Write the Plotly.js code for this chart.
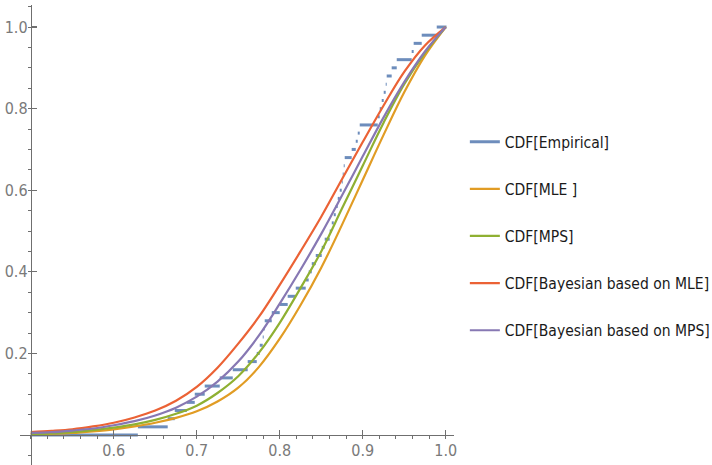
<!DOCTYPE html>
<html>
<head>
<meta charset="utf-8">
<script src="https://cdn.plot.ly/plotly-3.0.1.min.js"></script>
<style>
html,body{margin:0;padding:0;background:#fff;}
#chart{width:712px;height:465px;}
#chart svg text{font-stretch:condensed !important;}
</style>
</head>
<body>
<div id="chart"></div>
<script>
// ---- Data ----
// Empirical sample (sorted), n = 50
const sample = [
  0.629, 0.665, 0.6735, 0.688, 0.6976, 0.7096, 0.7277, 0.7434, 0.7614, 0.7723,
  0.7759, 0.7795, 0.7807, 0.7819, 0.7904, 0.800, 0.8096, 0.8193, 0.8313, 0.8349,
  0.8386, 0.8434, 0.8506, 0.8542, 0.8602, 0.8627, 0.8651, 0.8675, 0.8699, 0.8723,
  0.8747, 0.8759, 0.8771, 0.8783, 0.8867, 0.8916, 0.894, 0.8964, 0.9181, 0.9205,
  0.9229, 0.9253, 0.9277, 0.9289, 0.9349, 0.941, 0.959, 0.9614, 0.9711, 0.9892
];
const empiricalFrom = 0.5;
const empiricalTo = 1.001;

// Fitted CDF curves
const gridX = [0.5, 0.525, 0.55, 0.575, 0.6, 0.625, 0.65, 0.675, 0.7, 0.725, 0.75, 0.775, 0.8, 0.825, 0.85, 0.875, 0.9, 0.925, 0.95, 0.975, 1.0];
const mleY      = [0.002, 0.003, 0.005, 0.009, 0.014, 0.021, 0.030, 0.042, 0.058, 0.082, 0.116, 0.167, 0.236, 0.318, 0.410, 0.515, 0.625, 0.735, 0.840, 0.930, 1.0];
const mpsY      = [0.002, 0.004, 0.007, 0.012, 0.018, 0.026, 0.037, 0.052, 0.072, 0.103, 0.144, 0.202, 0.275, 0.360, 0.450, 0.555, 0.660, 0.765, 0.860, 0.937, 1.0];
const bayesMleY = [0.007, 0.010, 0.014, 0.021, 0.030, 0.043, 0.060, 0.084, 0.118, 0.165, 0.224, 0.290, 0.368, 0.450, 0.535, 0.627, 0.718, 0.807, 0.890, 0.955, 1.0];
const bayesMpsY = [0.005, 0.007, 0.011, 0.016, 0.024, 0.034, 0.048, 0.067, 0.094, 0.131, 0.180, 0.244, 0.322, 0.405, 0.493, 0.587, 0.683, 0.778, 0.865, 0.940, 1.0];

const seriesNames = ['CDF[Empirical]', 'CDF[MLE ]', 'CDF[MPS]', 'CDF[Bayesian based on MLE]', 'CDF[Bayesian based on MPS]'];
const seriesColors = ['#5E81B5', '#E19C24', '#8FB032', '#EB6235', '#8778B3'];

const xTickVals = [0.6, 0.7, 0.8, 0.9, 1.0];
const xTickText = ['0.6', '0.7', '0.8', '0.9', '1.0'];
const yTickVals = [0.2, 0.4, 0.6, 0.8, 1.0];
const yTickText = ['0.2', '0.4', '0.6', '0.8', '1.0'];

// ---- Build empirical step segments ----
const n = sample.length;
const edges = [empiricalFrom].concat(sample, [empiricalTo]);
const ex = [], ey = [];
for (let k = 0; k <= n; k++) {
  ex.push(edges[k], edges[k + 1], null);
  ey.push(k / n, k / n, null);
}

const xRange = [0.487, 1.01];
const yRange = [-0.0735, 1.054];
const narrow = '"DejaVu Sans Condensed", "DejaVu Sans", sans-serif';

function curve(y, i) {
  return {
    x: gridX, y: y, type: 'scatter', mode: 'lines', name: seriesNames[i],
    line: {color: seriesColors[i], width: 2.2, shape: 'spline', smoothing: 1},
    legendgroup: 'g' + i
  };
}

const traces = [
  {x: ex, y: ey, type: 'scatter', mode: 'lines', name: seriesNames[0],
   line: {color: seriesColors[0], width: 3}, opacity: 0.9, connectgaps: false, legendgroup: 'g0'},
  curve(mleY, 1),
  curve(mpsY, 2),
  curve(bayesMleY, 3),
  curve(bayesMpsY, 4)
];

const axisColor = '#6f6f6f';
const tickFont = {family: narrow, size: 16, color: '#7a7a7a'};

const layout = {
  width: 712, height: 465,
  margin: {l: 20, r: 258, t: 5, b: 0, pad: 0, autoexpand: false},
  paper_bgcolor: '#ffffff', plot_bgcolor: '#ffffff',
  showlegend: true,
  legend: {
    x: 1.025, y: 0.739, xanchor: 'left', yanchor: 'top',
    font: {family: narrow, size: 15.5, color: '#1a1a1a'},
    tracegroupgap: 24, bgcolor: 'rgba(0,0,0,0)', itemwidth: 30
  },
  xaxis: {
    range: xRange, anchor: 'free',
    position: (0 - yRange[0]) / (yRange[1] - yRange[0]),
    showgrid: false, zeroline: false, showline: true, linecolor: axisColor, linewidth: 1.3,
    ticks: 'inside', ticklen: 5, tickwidth: 1.2, tickcolor: axisColor,
    tickmode: 'array', tickvals: xTickVals, ticktext: xTickText, tickfont: tickFont,
    minor: {tickmode: 'linear', tick0: 0.5, dtick: 0.02, ticklen: 3, tickwidth: 1, tickcolor: axisColor, showgrid: false},
    automargin: false, fixedrange: true
  },
  yaxis: {
    range: yRange, anchor: 'free',
    position: (0.5 - xRange[0]) / (xRange[1] - xRange[0]),
    showgrid: false, zeroline: false, showline: true, linecolor: axisColor, linewidth: 1.3,
    ticks: 'inside', ticklen: 5, tickwidth: 1.2, tickcolor: axisColor,
    tickmode: 'array', tickvals: yTickVals, ticktext: yTickText, tickfont: tickFont,
    minor: {tickmode: 'linear', tick0: 0, dtick: 0.05, ticklen: 3, tickwidth: 1, tickcolor: axisColor, showgrid: false},
    automargin: false, fixedrange: true
  }
};

Plotly.newPlot('chart', traces, layout, {displayModeBar: false, staticPlot: true});
</script>
</body>
</html>
